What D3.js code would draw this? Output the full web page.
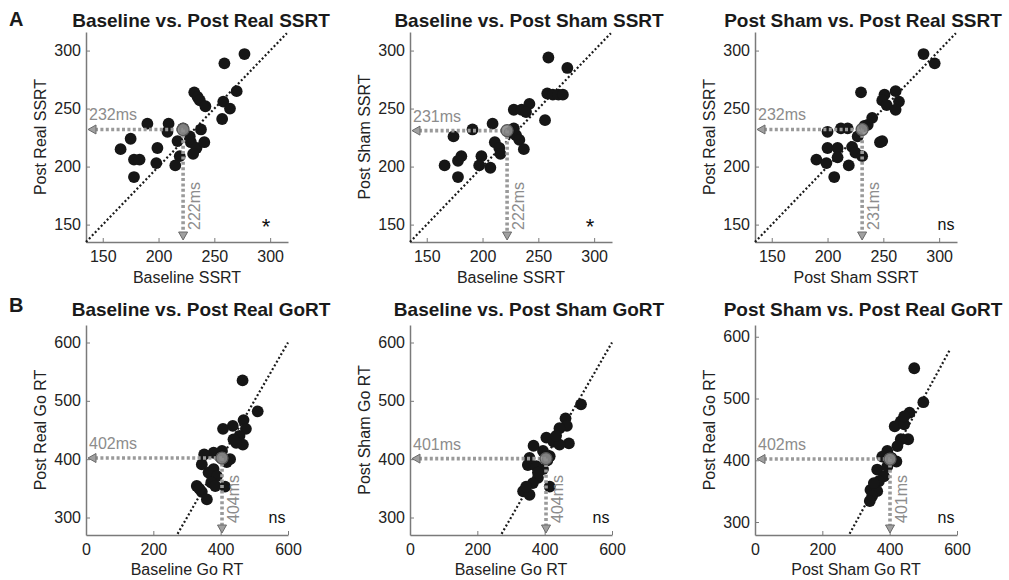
<!DOCTYPE html>
<html><head><meta charset="utf-8">
<script src="https://cdn.jsdelivr.net/npm/d3@7/dist/d3.min.js"></script>
<style>
body{margin:0;background:#fff;}
text{font-family:"Liberation Sans",Arial,Helvetica,sans-serif;}
</style></head>
<body><svg id="chart" width="1009" height="580"></svg>
<script>
// ---------- DATA ----------
const titles = ["Baseline vs. Post Real SSRT","Baseline vs. Post Sham SSRT","Post Sham vs. Post Real SSRT",
                "Baseline vs. Post Real GoRT","Baseline vs. Post Sham GoRT","Post Sham vs. Post Real GoRT"];
const xLabels = ["Baseline SSRT","Baseline SSRT","Post Sham SSRT","Baseline Go RT","Baseline Go RT","Post Sham Go RT"];
const yLabels = ["Post Real SSRT","Post Sham SSRT","Post Real SSRT","Post Real Go RT","Post Sham Go RT","Post Real Go RT"];
const sigLabels = ["*","*","ns","ns","ns","ns"];
const rowLetters = ["A","B"];
const ssrtTicks = [150,200,250,300];
const goXTicks = [0,200,400,600];
const goYTicks = [300,400,500,600];
const meanX = [222,222,231,404,404,401];
const meanY = [232,231,232,402,401,402];
const ssrtDomain = [135,316];
const goXDomain = [0,600];
const goYDomain = [[270,630],[270,630],[279,619]];
const diagFrom = [135,135,135,272,272,281];
const diagTo = [315,315,315,600,600,580];

// Panel A1: Baseline SSRT vs Post Real SSRT
const a1x = [277,259,270,232,235,237,242,258,264,257,190,209,208,222,238,175,166,199,217,229,234,241,231,219,178,183,198,215,178,228];
const a1y = [297,289,265,264,260,257,252,256,250,241,237,237,230,233,232,224,215,216,222,221,216,221,211,209,206,206,203,201,191,226];
// Panel A2: Baseline SSRT vs Post Sham SSRT
const a2x = [259,276,258,263,268,272,256,228,235,242,239,209,191,174,224,230,233,211,215,216,237,181,178,166,199,197,207,178,228];
const a2y = [294,285,263,262,262,262,240,249,249,254,247,237,232,226,229,227,223,221,216,211,215,209,205,201,209,201,199,191,233];
// Panel A3: Post Sham SSRT vs Post Real SSRT
const a3x = [286,296,230,261,251,249,253,264,261,240,236,212,218,200,249,247,227,200,209,222,225,231,190,199,209,219,206,233];
const a3y = [297,289,264,265,262,257,253,256,249,242,236,233,233,230,222,221,226,216,216,217,212,209,206,203,208,201,191,235];
// Panel B4: Baseline Go RT vs Post Real Go RT
const b4x = [465,510,468,475,407,436,456,466,446,404,379,351,428,344,379,364,389,372,329,413,344,359,337,384,418,438,398];
const b4y = [535,482,467,452,452,457,440,425,428,414,411,408,400,391,383,377,371,360,354,353,344,331,349,354,395,434,404];
// Panel B5: Baseline Go RT vs Post Sham Go RT
const b5x = [508,462,466,444,472,405,426,444,367,395,415,350,375,395,380,365,415,336,355,345,380,434,355,408];
const b5y = [494,470,457,453,427,437,430,425,423,414,405,390,388,383,368,359,353,345,339,353,377,440,402,398];
// Panel B6: Post Sham Go RT vs Post Real Go RT
const b6x = [473,500,459,433,415,443,455,433,423,393,420,378,363,383,368,343,363,348,341,393,353,443,405];
const b6y = [549,494,477,463,455,458,434,434,423,415,398,406,385,374,366,352,350,342,334,390,363,471,404];

const xs = [a1x,a2x,a3x,b4x,b5x,b6x];
const ys = [a1y,a2y,a3y,b4y,b5y,b6y];

// ---------- LAYOUT ----------
const colLeft = [86,410,755];
const rowTop = [32,325];
const titleShift = [14,18,7];
const pw = 202, ph = 210;
const fontFam = '"Liberation Sans",Arial,Helvetica,sans-serif';

const svg = d3.select("#chart");

rowLetters.forEach((L,i)=>{
  svg.append("text").attr("x",9).attr("y", i===0?26:312)
    .attr("font-size",20).attr("font-weight","bold").attr("fill","#1a1a1a").text(L);
});

for(let p=0;p<6;p++){
  const row = p<3?0:1, col = p%3;
  const x0 = colLeft[col], y0 = rowTop[row];
  const g = svg.append("g").attr("transform",`translate(${x0},${y0})`);
  const isSS = row===0;
  const x = d3.scaleLinear().domain(isSS?ssrtDomain:goXDomain).range([0,pw]);
  const y = d3.scaleLinear().domain(isSS?ssrtDomain:goYDomain[col]).range([ph,0]);

  // axes
  const xa = d3.axisBottom(x).tickValues(isSS?ssrtTicks:goXTicks).tickSizeInner(-4).tickSizeOuter(0).tickPadding(9);
  const ya = d3.axisLeft(y).tickValues(isSS?ssrtTicks:goYTicks).tickSizeInner(-4).tickSizeOuter(0).tickPadding(5);
  const gx = g.append("g").attr("transform",`translate(0,${ph})`).call(xa);
  const gy = g.append("g").call(ya);
  [gx,gy].forEach(a=>{
    a.select(".domain").attr("stroke","#7a7a7a").attr("stroke-width",1.5);
    a.selectAll(".tick line").attr("stroke","#7a7a7a").attr("stroke-width",1);
    a.selectAll(".tick text").attr("font-size",16).attr("fill","#222").attr("font-family",fontFam);
  });

  // diagonal identity line
  g.append("line")
    .attr("x1",x(diagFrom[p])).attr("y1",y(diagFrom[p]))
    .attr("x2",x(diagTo[p])).attr("y2",y(diagTo[p]))
    .attr("stroke","#1a1a1a").attr("stroke-width",2.2).attr("stroke-dasharray","2,2.3");

  // points
  g.selectAll("circle.pt").data(xs[p].map((v,i)=>[v,ys[p][i]])).enter()
    .append("circle").attr("class","pt")
    .attr("cx",d=>x(d[0])).attr("cy",d=>y(d[1])).attr("r",5.9).attr("fill","#161616");

  // mean guide lines
  const mx = x(meanX[p]), my = y(meanY[p]);
  const grey = "#9a9a9a";
  g.append("line").attr("x1",9).attr("y1",my).attr("x2",mx).attr("y2",my)
    .attr("stroke",grey).attr("stroke-width",3.6).attr("stroke-dasharray","3,2.4");
  g.append("line").attr("x1",mx).attr("y1",my).attr("x2",mx).attr("y2",ph-10)
    .attr("stroke",grey).attr("stroke-width",3.6).attr("stroke-dasharray","3,2.4");
  // triangles
  g.append("path").attr("d",`M${2},${my} L${10},${my-4.5} L${10},${my+4.5} Z`)
    .attr("fill","#a0a0a0").attr("stroke","#6a6a6a").attr("stroke-width",1);
  g.append("path").attr("d",`M${mx},${ph-2} L${mx-4.5},${ph-10} L${mx+4.5},${ph-10} Z`)
    .attr("fill","#a0a0a0").attr("stroke","#6a6a6a").attr("stroke-width",1);
  // mean marker
  g.append("circle").attr("cx",mx).attr("cy",my).attr("r",6)
    .attr("fill","#8c8c8c").attr("stroke","#555").attr("stroke-width",1.2).attr("fill-opacity",0.9);

  // mean labels
  g.append("text").attr("x",3).attr("y",my-9).attr("font-size",16).attr("fill","#8c8c8c")
    .text(meanY[p]+"ms");
  g.append("text").attr("transform",`translate(${mx+17},${ph-12}) rotate(-90)`)
    .attr("font-size",16).attr("fill","#8c8c8c").text(meanX[p]+"ms");

  // significance
  if(sigLabels[p]==="*"){
    g.append("text").attr("x",pw-22).attr("y",ph-8).attr("text-anchor","middle")
      .attr("font-size",22).attr("fill","#111").text("*");
  } else {
    g.append("text").attr("x",pw-11).attr("y",ph-12).attr("text-anchor","middle")
      .attr("font-size",16).attr("fill","#111").text("ns");
  }

  // title
  g.append("text").attr("x",pw/2+titleShift[col]).attr("y",row===0?-5:-9).attr("text-anchor","middle")
    .attr("font-size",19).attr("font-weight","bold").attr("fill","#1a1a1a").text(titles[p]);
  // x label
  g.append("text").attr("x",pw/2).attr("y",ph+(row===0?41:40)).attr("text-anchor","middle")
    .attr("font-size",16).attr("fill","#222").text(xLabels[p]);
  // y label
  g.append("text").attr("transform",`translate(-40,${ph/2}) rotate(-90)`).attr("text-anchor","middle")
    .attr("font-size",16).attr("fill","#222").text(yLabels[p]);
}
</script></body></html>
